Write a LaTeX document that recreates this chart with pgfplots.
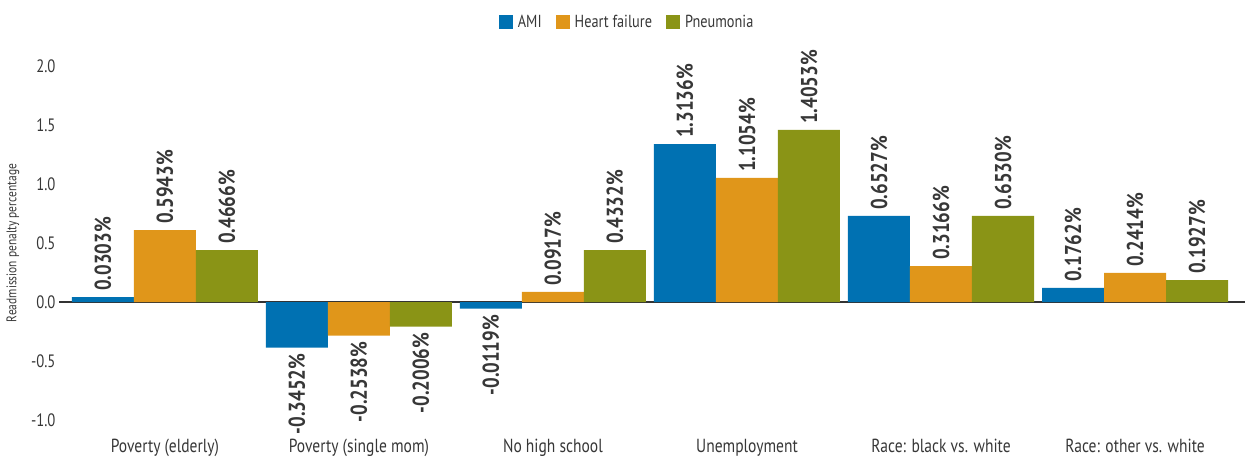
\documentclass[border=0pt]{standalone}
\usepackage{fontspec}
\setmainfont{PT Sans}[FakeStretch=0.82]
\usepackage{pgfplots}
\pgfplotsset{compat=1.18}
\usepackage{pgfplotstable}
\definecolor{amiblue}{RGB}{0,113,178}
\definecolor{hforange}{RGB}{224,150,26}
\definecolor{pngreen}{RGB}{138,148,22}
\definecolor{txt}{RGB}{55,55,55}

\pgfplotstableread{
x ami amil hf hfl pn pnl
0 0.042 0.0303 0.61 0.5943 0.44 0.4666
1 -0.387 -0.3452 -0.285 -0.2538 -0.209 -0.2006
2 -0.057 -0.0119 0.085 0.0917 0.44 0.4332
3 1.339 1.3136 1.051 1.1054 1.458 1.4053
4 0.729 0.6527 0.305 0.3166 0.729 0.6530
5 0.119 0.1762 0.246 0.2414 0.186 0.1927
}\data

\begin{document}
\begin{tikzpicture}
\begin{axis}[
  name=ax,
  scale only axis, width=1186bp, height=354bp,
  xmin=-0.546, xmax=5.567, ymin=-1, ymax=2,
  ybar=0pt, bar width=62bp,
  axis line style={draw=none},
  major tick length=0pt,
  xtick={0,1,2,3,4,5},
  xticklabels={Poverty (elderly),Poverty (single mom),No high school,Unemployment,Race: black vs. white,Race: other vs. white},
  xticklabel style={font=\fontsize{19}{21}\selectfont, text=txt, anchor=base, yshift=-32bp},
  ytick={-1,-0.5,0,0.5,1,1.5,2},
  yticklabels={-1.0,-0.5,0.0,0.5,1.0,1.5,2.0},
  yticklabel style={font=\fontsize{18}{20}\selectfont, text=txt},
  extra y ticks={0}, extra y tick labels={},
  extra y tick style={grid=major, major grid style={draw=black!80, line width=1.3bp}},
  ylabel={Readmission penalty percentage},
  ylabel style={at={(axis description cs:-0.0388,0.5)}, anchor=center, font=\fontsize{14}{16}\selectfont, text=txt},
  clip=false,
  legend style={at={(0.479,1.124)}, anchor=center, legend columns=-1, draw=none, fill=none,
    font=\fontsize{17.5}{20}\selectfont, text=txt,
    /tikz/every odd column/.append style={column sep=3bp},
    /tikz/every even column/.append style={column sep=12bp}},
  legend image code/.code={\path[#1,draw=none] (0bp,-7bp) rectangle (14bp,7bp);},
  point meta=explicit symbolic,
  nodes near coords={\pgfplotspointmeta\%},
  visualization depends on={y \as \rawy},
  every node near coord/.append style={rotate=90, font=\fontsize{23}{26}\selectfont\bfseries, text=txt, inner xsep=6bp, inner ysep=0bp, anchor=\ifdim\rawy pt<0pt east\else west\fi},
]
\addplot[fill=amiblue, draw=none] table[x=x, y=ami, meta=amil] {\data};
\addplot[fill=hforange, draw=none] table[x=x, y=hf, meta=hfl] {\data};
\addplot[fill=pngreen, draw=none] table[x=x, y=pn, meta=pnl] {\data};
\legend{AMI, Heart failure, Pneumonia}
\end{axis}
\pgfresetboundingbox
\path[use as bounding box] ([xshift=-59bp,yshift=-37bp]ax.south west) rectangle ([yshift=66bp]ax.north east);
\end{tikzpicture}
\end{document}
